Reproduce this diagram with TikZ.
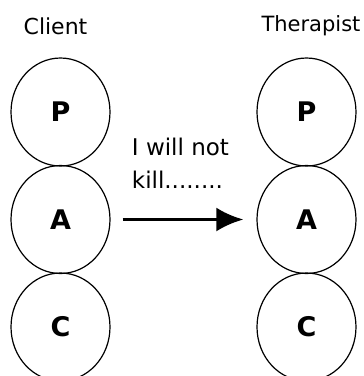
\documentclass[tikz,border=0pt]{standalone}
\usepackage{fontspec}
\setmainfont{DejaVu Sans}
\usetikzlibrary{shapes.geometric,arrows.meta}
\tikzset{> = {Latex[length=27pt,width=24pt]}, every picture/.style={line width=1.2pt}}

\begin{document}
\begin{tikzpicture}[x=1pt,y=-1pt]
\useasboundingbox (0,0) rectangle (364,376);
\node (client) at (55.5,26) {\fontsize{22}{24}\selectfont Client};
\node (therapist) at (311,26) {\fontsize{21}{24}\selectfont Therapist};

\begin{scope}[every node/.style={ellipse,draw,minimum width=99pt,minimum height=108pt,inner sep=0pt,font=\fontsize{27}{28}\selectfont\bfseries}]
\node (cP) at (60.5,112) {P};
\node (cA) at (60.5,219.5) {A};
\node (cC) at (60.5,327) {C};
\node (tP) at (306.5,112) {P};
\node (tA) at (306.5,219.5) {A};
\node (tC) at (306.5,327) {C};
\end{scope}

\node[align=left,anchor=west,font=\fontsize{23}{33}\selectfont] (say) at (128,163) {I will not\\kill........};

\begin{scope}[every edge/.style={draw,line width=3.5pt}]
    \path [->,shorten <=12pt,shorten >=13pt] (cA) edge (tA);
\end{scope}
\end{tikzpicture}
\end{document}
